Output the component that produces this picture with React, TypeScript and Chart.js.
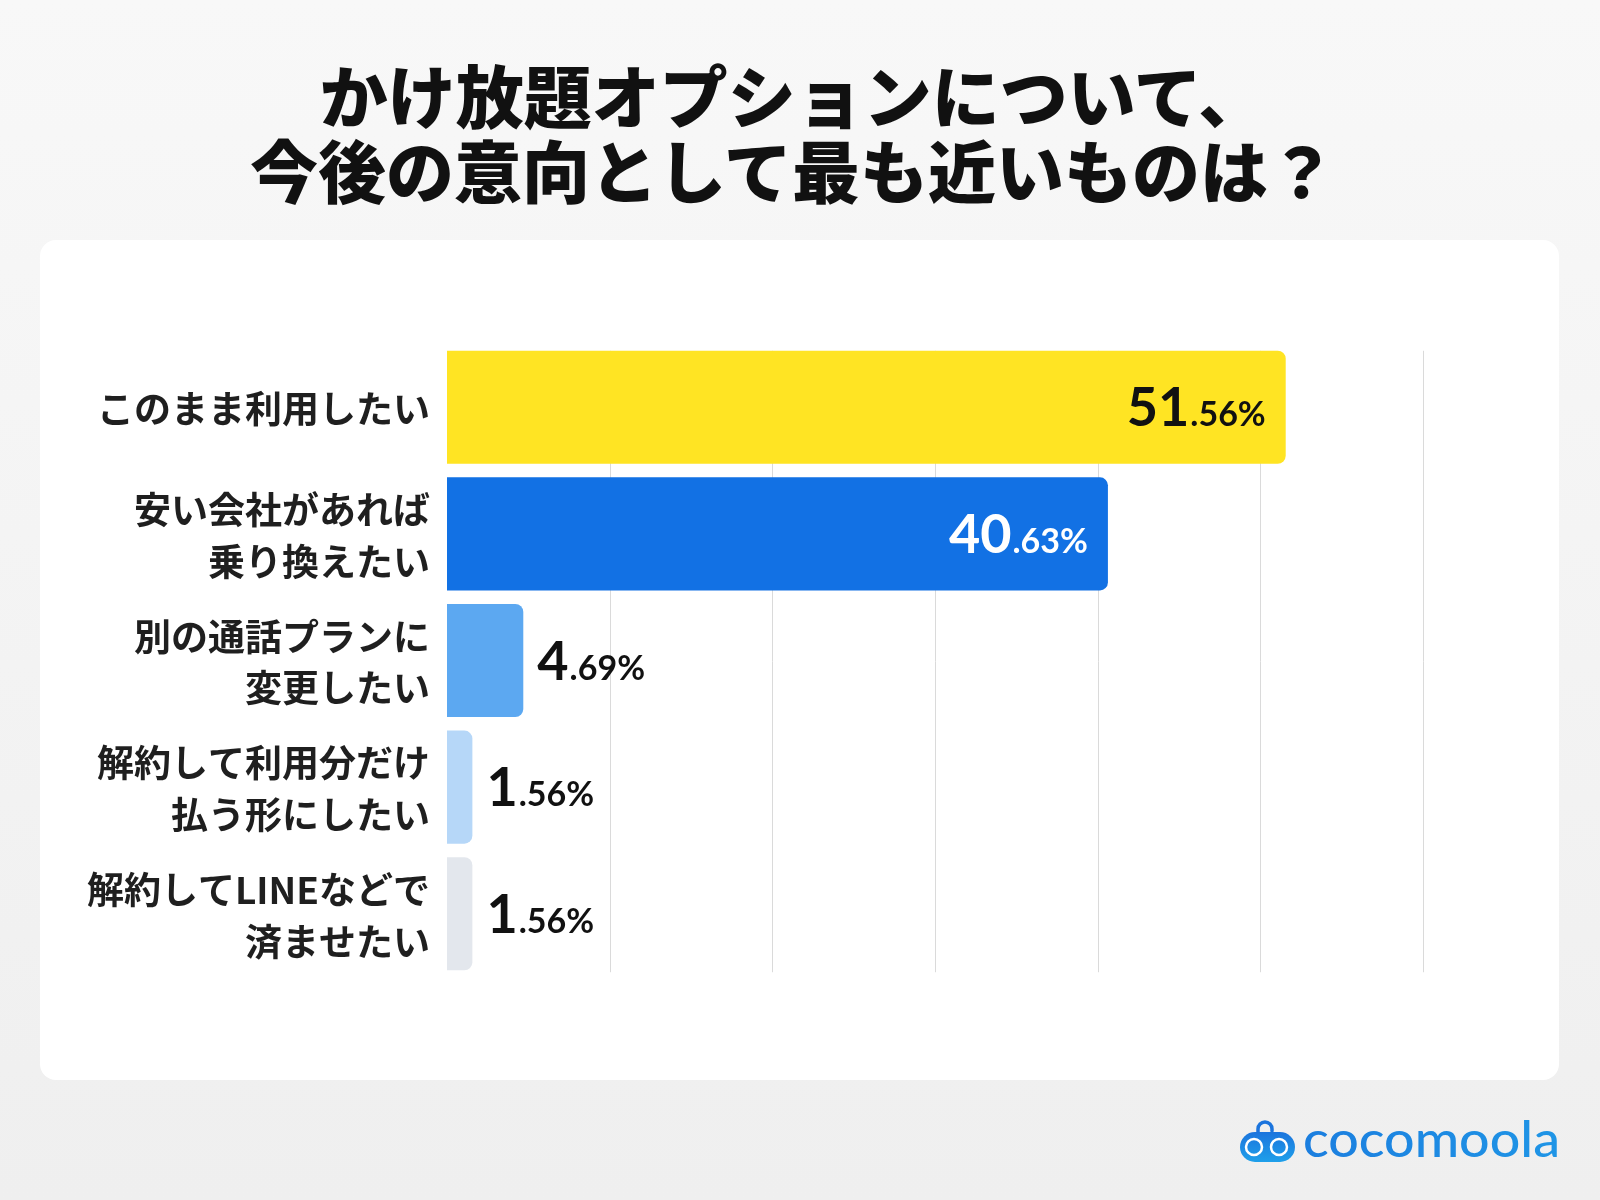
import React, { useEffect, useRef } from "react";
import { Chart, registerables } from "chart.js";

Chart.register(...registerables);

const titleLines = ["かけ放題オプションについて、", "今後の意向として最も近いものは？"];
const categories = [
  ["このまま利用したい"],
  ["安い会社があれば", "乗り換えたい"],
  ["別の通話プランに", "変更したい"],
  ["解約して利用分だけ", "払う形にしたい"],
  ["解約してLINEなどで", "済ませたい"],
];
const values = [51.56, 40.63, 4.69, 1.56, 1.56];
const barColors = ["#FFE423", "#1271E4", "#5CA8F1", "#B6D7F8", "#E3E7ED"];
const labelColors = ["#111111", "#FFFFFF", "#111111", "#111111", "#111111"];
const labelInside = [true, true, false, false, false];
const gridTicks = [10, 20, 30, 40, 50, 60];
const axisMax = 60;

const gridPlugin = {
  id: "customGrid",
  beforeDatasetsDraw(chart: any) {
    const meta = chart.getDatasetMeta(0);
    const first = meta.data[0];
    const last = meta.data[meta.data.length - 1];
    const top = first.y - first.height / 2;
    const bottom = last.y + last.height / 2 + 2;
    const ctx = chart.ctx;
    const xs = chart.scales.x;
    ctx.save();
    ctx.strokeStyle = "#DADADA";
    ctx.lineWidth = 1;
    gridTicks.forEach((t) => {
      const x = Math.round(xs.getPixelForValue(t)) + 0.5;
      ctx.beginPath();
      ctx.moveTo(x, top);
      ctx.lineTo(x, bottom);
      ctx.stroke();
    });
    ctx.restore();
  },
};

const labelPlugin = {
  id: "valueLabels",
  afterDatasetsDraw(chart: any) {
    const ctx = chart.ctx;
    const meta = chart.getDatasetMeta(0);
    ctx.save();
    ctx.textBaseline = "alphabetic";
    ctx.textAlign = "left";
    meta.data.forEach((bar: any, i: number) => {
      const parts = values[i].toFixed(2).split(".");
      const big = parts[0];
      const small = "." + parts[1] + "%";
      const bigFont = "bold 54px Lato, 'Noto Sans', sans-serif";
      const smallFont = "bold 34px Lato, 'Noto Sans', sans-serif";
      ctx.font = bigFont;
      const w1 = ctx.measureText(big).width;
      ctx.font = smallFont;
      const w2 = ctx.measureText(small).width;
      const total = w1 + 1 + w2;
      const x = labelInside[i] ? bar.x - 20 - total : bar.x + 14;
      const y = bar.y + 19;
      ctx.fillStyle = labelColors[i];
      ctx.font = bigFont;
      ctx.fillText(big, x, y);
      ctx.font = smallFont;
      ctx.fillText(small, x + w1 + 1, y);
    });
    ctx.restore();
  },
};

function BarChart() {
  const ref = useRef<HTMLCanvasElement | null>(null);
  useEffect(() => {
    if (!ref.current) return;
    const chart = new Chart(ref.current, {
      type: "bar",
      data: {
        labels: categories as any,
        datasets: [
          {
            data: values,
            backgroundColor: barColors,
            borderRadius: 8,
            borderSkipped: "start",
            barPercentage: 0.893,
            categoryPercentage: 1,
          },
        ],
      },
      options: {
        indexAxis: "y",
        animation: false,
        responsive: false,
        maintainAspectRatio: false,
        layout: { padding: { top: 104, bottom: 103, right: 136, left: 0 } },
        plugins: { legend: { display: false }, tooltip: { enabled: false } },
        scales: {
          x: { display: false, min: 0, max: axisMax },
          y: {
            grid: { display: false, drawTicks: false },
            border: { display: false },
            ticks: {
              padding: 17,
              color: "#1F1F1F",
              labelOffset: 2,
              font: { family: "'Noto Sans CJK JP', sans-serif", size: 37, weight: "bold", lineHeight: 1.4 },
            },
            afterFit: (s: any) => {
              s.width = 407;
            },
          },
        },
      } as any,
      plugins: [gridPlugin, labelPlugin],
    });
    return () => chart.destroy();
  }, []);
  return <canvas ref={ref} width={1519} height={840} style={{ display: "block", width: 1519, height: 840 }} />;
}

export default function App() {
  return (
    <div
      style={{
        position: "fixed",
        left: 0,
        top: 0,
        width: 1600,
        height: 1200,
        overflow: "hidden",
        background: "linear-gradient(180deg, #F8F8F8 0%, #EFEFEF 100%)",
        fontFamily: "'Noto Sans CJK JP', sans-serif",
      }}
    >
      <div
        style={{
          position: "absolute",
          left: 0,
          top: 56,
          width: 1586,
          textAlign: "center",
          fontSize: 68,
          lineHeight: "75px",
          fontWeight: 900,
          color: "#111111",
          letterSpacing: 0,
        }}
      >
        {titleLines.map((t, i) => (
          <div key={i}>{t}</div>
        ))}
      </div>
      <div
        style={{
          position: "absolute",
          left: 40,
          top: 240,
          width: 1519,
          height: 840,
          background: "#FFFFFF",
          borderRadius: 16,
          overflow: "hidden",
        }}
      >
        <BarChart />
      </div>
      <svg
        style={{ position: "absolute", left: 1230, top: 1100 }}
        width={340}
        height={80}
        viewBox="0 0 340 80"
      >
        <defs>
          <linearGradient id="logoBody" x1="0" y1="0" x2="0" y2="1">
            <stop offset="0" stopColor="#1B74DD" />
            <stop offset="1" stopColor="#1FA0EA" />
          </linearGradient>
          <linearGradient id="logoText" x1="0" y1="0" x2="1" y2="0">
            <stop offset="0" stopColor="#1B7EDF" />
            <stop offset="1" stopColor="#1F95E6" />
          </linearGradient>
        </defs>
        <path d="M 28 33 V 29 A 7 7 0 0 1 42 29 V 31" fill="none" stroke="#1B74DD" strokeWidth={3.5} strokeLinecap="round" />
        <rect x={10} y={32} width={55} height={30} rx={15} fill="url(#logoBody)" />
        <circle cx={24} cy={47} r={8} fill="none" stroke="#FFFFFF" strokeWidth={2.5} />
        <circle cx={49} cy={47} r={8} fill="none" stroke="#FFFFFF" strokeWidth={2.5} />
        <text
          x={73}
          y={57}
          fontFamily="Lato, 'Noto Sans', sans-serif"
          fontWeight={500}
          fontSize={50}
          textLength={257}
          lengthAdjust="spacingAndGlyphs"
          fill="url(#logoText)"
        >
          cocomoola
        </text>
      </svg>
    </div>
  );
}
